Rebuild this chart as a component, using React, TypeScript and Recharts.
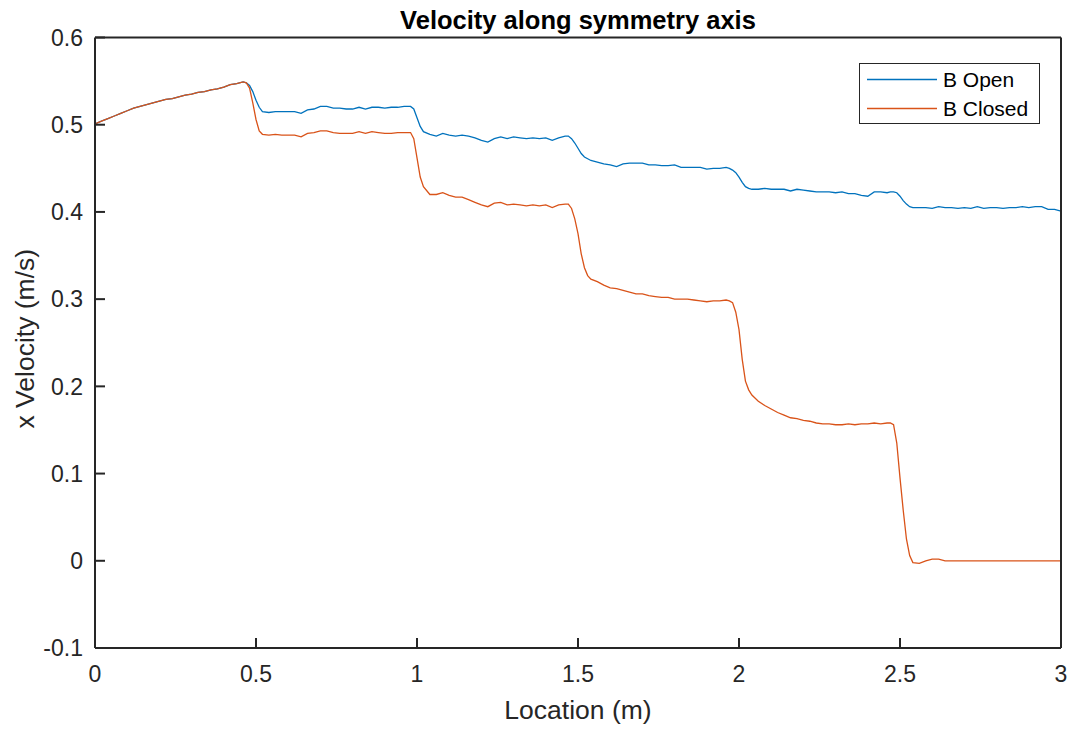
import React from 'react';
import { LineChart, Line, XAxis, YAxis, Legend, Label } from 'recharts';

// Sample positions along the symmetry axis (m)
const locations = [
  0.0, 0.02, 0.04, 0.06, 0.08, 0.1, 0.12, 0.14, 0.16, 0.18, 0.2, 0.22, 0.24, 0.26, 0.28, 0.3, 0.32, 0.34, 0.36, 0.38, 0.4, 0.42, 0.44, 0.46,
  0.47, 0.48, 0.49, 0.5, 0.51,
  0.52, 0.54, 0.56, 0.58, 0.6, 0.62, 0.64, 0.66, 0.68, 0.7, 0.72, 0.74, 0.76, 0.78, 0.8, 0.82, 0.84, 0.86, 0.88, 0.9, 0.92, 0.94, 0.96, 0.98,
  0.99, 1.0, 1.01,
  1.02, 1.04, 1.06, 1.08, 1.1, 1.12, 1.14, 1.16, 1.18, 1.2, 1.22, 1.24, 1.26, 1.28, 1.3, 1.32, 1.34, 1.36, 1.38, 1.4, 1.42, 1.44, 1.46,
  1.47, 1.48, 1.49, 1.5, 1.51, 1.52, 1.53,
  1.54, 1.56, 1.58, 1.6, 1.62, 1.64, 1.66, 1.68, 1.7, 1.72, 1.74, 1.76, 1.78, 1.8, 1.82, 1.84, 1.86, 1.88, 1.9, 1.92, 1.94, 1.96,
  1.97, 1.98, 1.99, 2.0, 2.01, 2.02, 2.03,
  2.04, 2.06, 2.08, 2.1, 2.12, 2.14, 2.16, 2.18, 2.2, 2.22, 2.24, 2.26, 2.28, 2.3, 2.32, 2.34, 2.36, 2.38, 2.4, 2.42, 2.44, 2.46,
  2.47, 2.48, 2.49, 2.5, 2.51, 2.52, 2.53,
  2.54, 2.56, 2.58, 2.6, 2.62, 2.64, 2.66, 2.68, 2.7, 2.72, 2.74, 2.76, 2.78, 2.8, 2.82, 2.84, 2.86, 2.88, 2.9, 2.92, 2.94, 2.96, 2.98, 3.0,
];

// x velocity with the B gates open (m/s)
const openVelocity = [
  0.501, 0.504, 0.507, 0.51, 0.513, 0.516, 0.519, 0.521, 0.523, 0.525, 0.527, 0.529, 0.53, 0.532, 0.534, 0.535, 0.537, 0.538, 0.54, 0.541, 0.543, 0.546, 0.547, 0.549,
  0.548, 0.545, 0.538, 0.528, 0.52,
  0.515, 0.514, 0.515, 0.515, 0.515, 0.515, 0.513, 0.517, 0.518, 0.521, 0.521, 0.519, 0.519, 0.518, 0.518, 0.52, 0.518, 0.52, 0.52, 0.519, 0.52, 0.52, 0.521, 0.521,
  0.518, 0.508, 0.498,
  0.492, 0.489, 0.487, 0.49, 0.488, 0.487, 0.488, 0.487, 0.485, 0.482, 0.48, 0.484, 0.486, 0.484, 0.486, 0.485, 0.484, 0.485, 0.484, 0.485, 0.482, 0.485, 0.487,
  0.487, 0.484, 0.479, 0.473, 0.467, 0.463, 0.461,
  0.459, 0.457, 0.455, 0.454, 0.452, 0.455, 0.456, 0.456, 0.456, 0.454, 0.454, 0.453, 0.453, 0.454, 0.451, 0.451, 0.451, 0.451, 0.449, 0.45, 0.45, 0.451,
  0.45, 0.448, 0.445, 0.44, 0.434, 0.429, 0.427,
  0.426, 0.426, 0.427, 0.426, 0.426, 0.426, 0.424, 0.426, 0.425, 0.424, 0.423, 0.423, 0.423, 0.422, 0.423, 0.421, 0.421, 0.419, 0.418, 0.423, 0.423, 0.422,
  0.423, 0.423, 0.422, 0.418, 0.413, 0.409, 0.406,
  0.405, 0.405, 0.405, 0.404, 0.406, 0.405, 0.405, 0.404, 0.405, 0.404, 0.406, 0.404, 0.405, 0.405, 0.404, 0.405, 0.405, 0.406, 0.405, 0.406, 0.406, 0.403, 0.403, 0.401,
];

// x velocity with the B gates closed (m/s)
const closedVelocity = [
  0.501, 0.504, 0.507, 0.51, 0.513, 0.516, 0.519, 0.521, 0.523, 0.525, 0.527, 0.529, 0.53, 0.532, 0.534, 0.535, 0.537, 0.538, 0.54, 0.541, 0.543, 0.546, 0.547, 0.549,
  0.548, 0.542, 0.525, 0.506, 0.493,
  0.489, 0.488, 0.489, 0.488, 0.488, 0.488, 0.486, 0.49, 0.491, 0.493, 0.493, 0.491, 0.49, 0.49, 0.49, 0.492, 0.49, 0.492, 0.491, 0.49, 0.49, 0.491, 0.491, 0.491,
  0.484, 0.462, 0.44,
  0.429, 0.42, 0.42, 0.422, 0.419, 0.417, 0.417, 0.414, 0.411, 0.408, 0.406, 0.41, 0.411, 0.408, 0.409, 0.408, 0.407, 0.408, 0.407, 0.408, 0.405, 0.408, 0.409,
  0.409, 0.404, 0.392, 0.375, 0.352, 0.336, 0.327,
  0.323, 0.32, 0.316, 0.313, 0.312, 0.31, 0.308, 0.306, 0.306, 0.304, 0.303, 0.302, 0.302, 0.3, 0.3, 0.3, 0.299, 0.298, 0.297, 0.298, 0.298, 0.299,
  0.298, 0.296, 0.285, 0.265, 0.231, 0.206, 0.196,
  0.19, 0.183, 0.178, 0.174, 0.17, 0.167, 0.164, 0.163, 0.161, 0.16, 0.158, 0.157, 0.157, 0.156, 0.156, 0.157, 0.156, 0.157, 0.157, 0.158, 0.157, 0.158,
  0.158, 0.156, 0.135, 0.095, 0.058, 0.025, 0.006,
  -0.002, -0.003, 0.0, 0.002, 0.002, 0.0, 0, 0, 0, 0, 0, 0, 0, 0, 0, 0, 0, 0, 0, 0, 0, 0, 0, 0,
];

const xTicks = [0, 0.5, 1, 1.5, 2, 2.5, 3];
const yTicks = [-0.1, 0, 0.1, 0.2, 0.3, 0.4, 0.5, 0.6];

const rows = locations.map((x, i) => ({ x, open: openVelocity[i], closed: closedVelocity[i] }));

const FONT = '"Liberation Sans", Arial, Helvetica, sans-serif';
const AXIS_COLOR = '#262626';
const BLUE = '#0072BD';
const ORANGE = '#D95319';
const LABEL_SIZE = 26.5;

const tickStyle = { fontSize: 23, fill: AXIS_COLOR, fontFamily: FONT };
const fmt = (v: number) => String(v);

const renderLegend = (props: any) => {
  const payload = props.payload || [];
  return (
    <div
      style={{
        border: `1px solid ${AXIS_COLOR}`,
        background: '#fff',
        width: 179,
        paddingTop: 1,
        fontFamily: FONT,
        color: '#000',
      }}
    >
      {payload.map((p: any) => (
        <div key={p.value} style={{ display: 'flex', alignItems: 'center', height: 29 }}>
          <svg width={83} height={29} style={{ flex: 'none' }}>
            <line x1={7} x2={77} y1={14.5} y2={14.5} stroke={p.color} strokeWidth={1.3} />
          </svg>
          <span style={{ fontSize: 21, lineHeight: '29px', whiteSpace: 'nowrap' }}>{p.value}</span>
        </div>
      ))}
    </div>
  );
};

const YTitle = (props: any) => {
  const vb = props.viewBox || { x: 0, y: 0, width: 0, height: 0 };
  const cx = vb.x - 1;
  const cy = vb.y + vb.height / 2 - 4;
  return (
    <text
      x={cx}
      y={cy}
      transform={`rotate(-90, ${cx}, ${cy})`}
      textAnchor="middle"
      fontSize={LABEL_SIZE}
      fontFamily={FONT}
      fill={AXIS_COLOR}
    >
      x Velocity (m/s)
    </text>
  );
};

const PlotTitle = (props: any) => {
  const vb = props.viewBox || { x: 0, y: 0, width: 0, height: 0 };
  const cx = vb.x + vb.width / 2;
  const baseline = vb.y + vb.height - 9;
  return (
    <text x={cx} y={baseline} textAnchor="middle" fontSize={25.5} fontWeight="bold" fontFamily={FONT} fill="#000">
      Velocity along symmetry axis
    </text>
  );
};

export default function App() {
  return (
    <div style={{ position: 'absolute', left: 0, top: 0, width: 1073, height: 729, background: '#fff' }}>
      <LineChart
        width={1073}
        height={729}
        data={rows}
        margin={{ top: 36.5, right: 11, bottom: 31, left: 35 }}
      >
        <XAxis
          dataKey="x"
          type="number"
          domain={[0, 3]}
          ticks={xTicks}
          allowDataOverflow
          tickFormatter={fmt}
          height={50}
          stroke={AXIS_COLOR}
          axisLine={{ stroke: AXIS_COLOR, strokeWidth: 2 }}
          tickLine={{ stroke: AXIS_COLOR, strokeWidth: 2 }}
          tickSize={-10}
          tickMargin={28}
          tick={tickStyle}
          interval={0}
        >
          <Label value="Location (m)" position="bottom" offset={2} style={{ fontSize: LABEL_SIZE, fill: AXIS_COLOR, fontFamily: FONT }} />
        </XAxis>
        <XAxis
          xAxisId="top"
          dataKey="x"
          orientation="top"
          type="number"
          domain={[0, 3]}
          ticks={xTicks}
          allowDataOverflow
          height={1}
          stroke={AXIS_COLOR}
          axisLine={{ stroke: AXIS_COLOR, strokeWidth: 2 }}
          tickLine={{ stroke: AXIS_COLOR, strokeWidth: 2 }}
          tickSize={-10}
          tick={false}
          interval={0}
        >
          <Label content={<PlotTitle />} />
        </XAxis>
        <YAxis
          type="number"
          domain={[-0.1, 0.6]}
          ticks={yTicks}
          allowDataOverflow
          tickFormatter={fmt}
          width={60}
          stroke={AXIS_COLOR}
          axisLine={{ stroke: AXIS_COLOR, strokeWidth: 2 }}
          tickLine={{ stroke: AXIS_COLOR, strokeWidth: 2 }}
          tickSize={-10}
          tickMargin={22}
          tick={tickStyle}
          interval={0}
        >
          <Label content={<YTitle />} />
        </YAxis>
        <YAxis
          yAxisId="right"
          orientation="right"
          type="number"
          domain={[-0.1, 0.6]}
          ticks={yTicks}
          allowDataOverflow
          width={1}
          stroke={AXIS_COLOR}
          axisLine={{ stroke: AXIS_COLOR, strokeWidth: 2 }}
          tickLine={{ stroke: AXIS_COLOR, strokeWidth: 2 }}
          tickSize={-10}
          tick={false}
          interval={0}
        />
        <Legend
          layout="vertical"
          align="center"
          verticalAlign="middle"
          itemSorter={null as any}
          content={renderLegend}
          wrapperStyle={{ left: 859, top: 63, width: 181, height: 62 }}
        />
        <Line
          type="linear"
          dataKey="open"
          name="B Open"
          stroke={BLUE}
          strokeWidth={1.3}
          dot={false}
          activeDot={false}
          isAnimationActive={false}
        />
        <Line
          type="linear"
          dataKey="closed"
          name="B Closed"
          stroke={ORANGE}
          strokeWidth={1.3}
          dot={false}
          activeDot={false}
          isAnimationActive={false}
        />
      </LineChart>
    </div>
  );
}
